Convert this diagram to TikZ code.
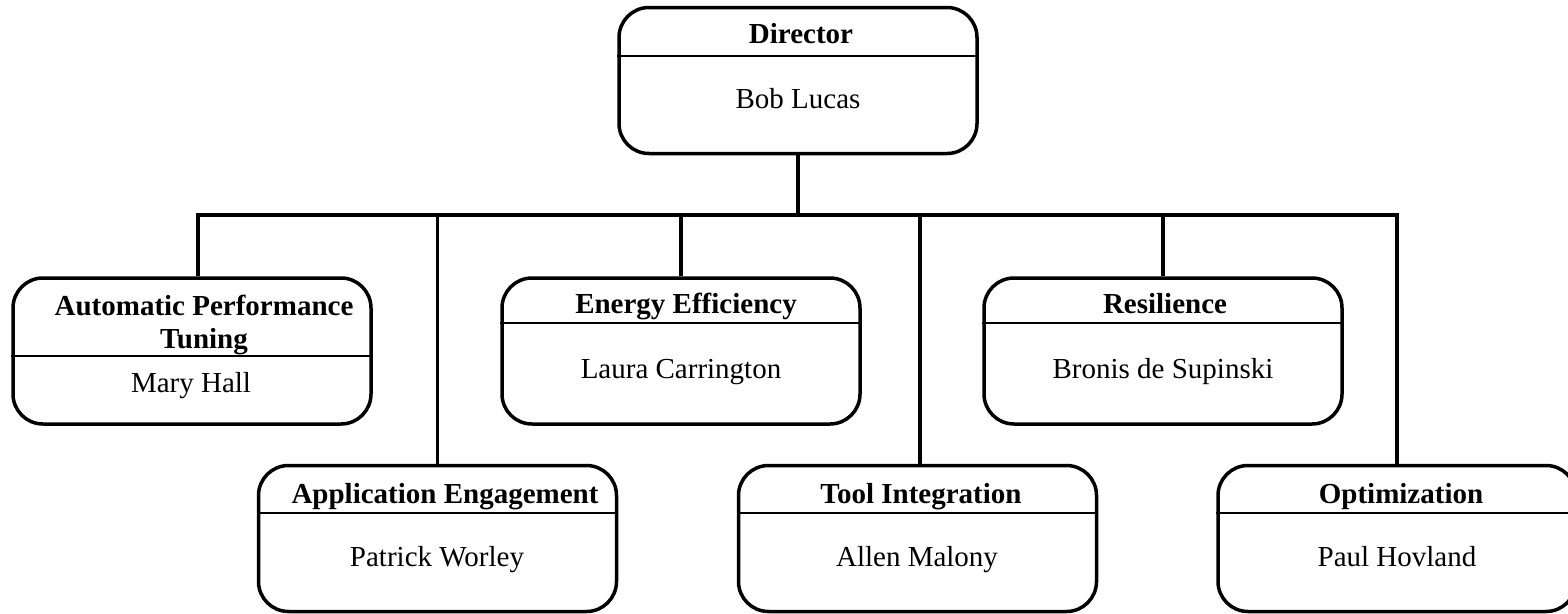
\documentclass[tikz,border=0pt]{standalone}
\usepackage{fontspec}
\setmainfont{Liberation Serif}
\begin{document}
\begin{tikzpicture}[x=1pt,y=-1pt,
  box/.style={draw, line width=3.5pt, rounded corners=30pt, minimum width=358pt, minimum height=146pt, inner sep=0pt},
  divider/.style={line width=2pt},
  conn/.style={line width=3.5pt},
  ttl/.style={anchor=base, font=\fontsize{29}{33}\selectfont\bfseries, inner sep=0pt},
  nm/.style={anchor=base, font=\fontsize{29}{33}\selectfont, inner sep=0pt}]
\useasboundingbox (0,0) rectangle (1568,613);
% boxes
\node[box] (dir) at (798,80.5) {};
\node[box] (apt) at (192,351) {};
\node[box] (ene) at (681,351) {};
\node[box] (res) at (1163,351) {};
\node[box] (app) at (437.5,538.5) {};
\node[box] (tool) at (917.5,538.5) {};
\node[box] (opt) at (1397,538.5) {};
% dividers
\draw[divider] (dir.west |- 0,56) -- (dir.east |- 0,56);
\draw[divider] (apt.west |- 0,356) -- (apt.east |- 0,356);
\draw[divider] (ene.west |- 0,323) -- (ene.east |- 0,323);
\draw[divider] (res.west |- 0,323) -- (res.east |- 0,323);
\draw[divider] (app.west |- 0,513) -- (app.east |- 0,513);
\draw[divider] (tool.west |- 0,513) -- (tool.east |- 0,513);
\draw[divider] (opt.west |- 0,513) -- (opt.east |- 0,513);
% texts
\node[ttl] (dirT) at (801,43) {Director};
\node[nm] (dirN) at (798,108) {Bob Lucas};
\node[ttl, align=center] (aptT) at (204,348) {Automatic Performance\\Tuning};
\node[nm] (aptN) at (191,392) {Mary Hall};
\node[ttl] (eneT) at (686,313) {Energy Efficiency};
\node[nm] (eneN) at (681,378) {Laura Carrington};
\node[ttl] (resT) at (1165,313) {Resilience};
\node[nm] (resN) at (1163,378) {Bronis de Supinski};
\node[ttl] (appT) at (445,503) {Application Engagement};
\node[nm] (appN) at (437,566) {Patrick Worley};
\node[ttl] (toolT) at (921,503) {Tool Integration};
\node[nm] (toolN) at (917,566) {Allen Malony};
\node[ttl] (optT) at (1401,503) {Optimization};
\node[nm] (optN) at (1397,566) {Paul Hovland};
% connectors
\coordinate (bus) at (798,215);
\draw[conn] (dir.south) -- (bus);
\draw[conn] ([xshift=6pt]apt.north) -- ([xshift=6pt]apt.north |- bus) -- (opt.north |- bus) -- (opt.north);
\draw[conn] (app.north) -- (app.north |- bus);
\draw[conn] (ene.north) -- (ene.north |- bus);
\draw[conn] ([xshift=2.5pt]tool.north) -- ([xshift=2.5pt]tool.north |- bus);
\draw[conn] (res.north) -- (res.north |- bus);
\end{tikzpicture}
\end{document}
